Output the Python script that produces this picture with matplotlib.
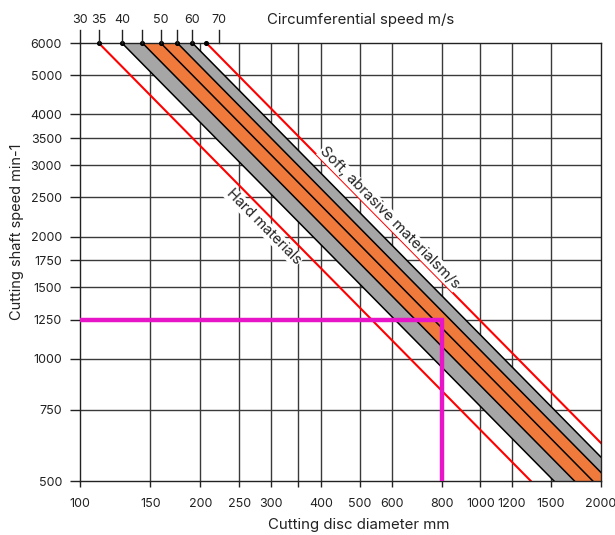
import matplotlib
matplotlib.use("Agg")

import numpy as np
import matplotlib.pyplot as plt
from matplotlib.ticker import FixedLocator, FixedFormatter, NullLocator

plt.rcParams["font.family"] = ["Inter", "DejaVu Sans"]

# ============================================================
# DATA
# ============================================================
x_ticks = [100, 150, 200, 250, 300, 350, 400, 500, 600, 800, 1000, 1200, 1500, 2000]
x_labels = ["100", "150", "200", "250", "300", "", "400", "500", "600", "800",
            "1000", "1200", "1500", "2000"]
y_ticks = [500, 750, 1000, 1250, 1500, 1750, 2000, 2500, 3000, 3500, 4000, 5000, 6000]
y_labels = [str(v) for v in y_ticks]

# circumferential speeds (m/s) marked on top scale
top_speeds = [30, 35, 40, 45, 50, 55, 60, 70]
top_labels = ["30", "35", "40", "", "50", "", "60", "70"]

# band definitions (m/s)
grey_band = (40, 60)
orange_band = (45, 55)
black_lines = [40, 45, 50, 55, 60]
red_lines = [35, 65]
dot_speeds = [35, 40, 45, 50, 55, 60, 65]

# example reading
example_d = 800
example_n = 1250

D_MIN, D_MAX = 100, 2000
N_MIN, N_MAX = 500, 6000

ORANGE = "#f07a3c"
GREY = "#a6a6a6"
MAGENTA = "#e814c8"
GRID = "#3a3a3a"
TXT = "#222222"


def rpm_at(v, d):
    # n = 60000 v / (pi D)   (D in mm, v in m/s)
    return 60000.0 * v / (np.pi * np.asarray(d, dtype=float))


def diam_at(v, n):
    return 60000.0 * v / (np.pi * n)


# ============================================================
# PLOT
# ============================================================
fig = plt.figure(figsize=(6.15, 5.35), dpi=100)
ax = fig.add_axes([0.130, 0.1009, 0.847, 0.8187])
ax.set_xscale("log")
ax.set_yscale("log")
ax.set_xlim(D_MIN, D_MAX)
ax.set_ylim(N_MIN, N_MAX)

ax.xaxis.set_major_locator(FixedLocator(x_ticks))
ax.xaxis.set_major_formatter(FixedFormatter(x_labels))
ax.xaxis.set_minor_locator(NullLocator())
ax.yaxis.set_major_locator(FixedLocator(y_ticks))
ax.yaxis.set_major_formatter(FixedFormatter(y_labels))
ax.yaxis.set_minor_locator(NullLocator())
ax.tick_params(axis="x", direction="out", length=4, width=1, labelsize=9, pad=8,
               color=TXT, labelcolor=TXT)
ax.tick_params(axis="y", direction="out", length=7, width=1, labelsize=9, pad=6,
               color=TXT, labelcolor=TXT)

for v in x_ticks[1:-1]:
    ax.axvline(v, color=GRID, lw=1, zorder=0.5)
for v in y_ticks[1:-1]:
    ax.axhline(v, color=GRID, lw=1, zorder=0.5)
for s in ax.spines.values():
    s.set_color(TXT)
    s.set_linewidth(1)

d = np.array([D_MIN * 0.9, D_MAX * 1.1])
ax.fill_between(d, rpm_at(grey_band[0], d), rpm_at(grey_band[1], d),
                color=GREY, lw=0, zorder=1)
ax.fill_between(d, rpm_at(orange_band[0], d), rpm_at(orange_band[1], d),
                color=ORANGE, lw=0, zorder=1.1)
for v in black_lines:
    ax.plot(d, rpm_at(v, d), color="black", lw=1.1, zorder=2)
for v in red_lines:
    ax.plot(d, rpm_at(v, d), color="red", lw=1.5, zorder=2)

ax.scatter([diam_at(v, N_MAX) for v in dot_speeds], [N_MAX] * len(dot_speeds),
           s=7, color="black", zorder=5, clip_on=False)

# example reading
ax.plot([D_MIN, example_d, example_d], [example_n, example_n, N_MIN],
        color=MAGENTA, lw=3.2, zorder=3, solid_joinstyle="miter",
        solid_capstyle="butt")

# top speed scale
trans = ax.get_xaxis_transform()
tick_top = 1 + 13 / 438
for v, lab in zip(top_speeds, top_labels):
    x = max(diam_at(v, N_MAX), D_MIN)
    ax.plot([x, x], [1, tick_top], color=TXT, lw=1, transform=trans,
            clip_on=False, zorder=5)
    if lab:
        ax.text(x, 1.052, lab, transform=trans, ha="center", va="center",
                fontsize=9, color=TXT)
ax.text(0.359, 1.052, "Circumferential speed m/s", transform=ax.transAxes,
        ha="left", va="center", fontsize=10.8, color=TXT)

# rotated labels along the speed lines
p0 = ax.transData.transform((200, rpm_at(50, 200)))
p1 = ax.transData.transform((1000, rpm_at(50, 1000)))
angle = np.degrees(np.arctan2(p1[1] - p0[1], p1[0] - p0[0]))

ax.text(594, 2224, "Soft, abrasive materialsm/s", rotation=angle,
        rotation_mode="anchor", ha="center", va="center", fontsize=10.8,
        color=TXT, zorder=4,
        bbox=dict(facecolor="white", edgecolor="none", pad=0.5))
ax.text(288, 2113, "Hard materials", rotation=angle,
        rotation_mode="anchor", ha="center", va="center", fontsize=10.5,
        color=TXT, zorder=4,
        bbox=dict(facecolor="white", edgecolor="none", pad=0.5))

fig.text(0.584, 0.018, "Cutting disc diameter mm", ha="center", va="center",
         fontsize=10.8, color=TXT)
fig.text(0.028, 0.566, "Cutting shaft speed min-1", ha="center", va="center",
         rotation=90, fontsize=10.5, color=TXT)

fig.savefig("out.png", dpi=100)
